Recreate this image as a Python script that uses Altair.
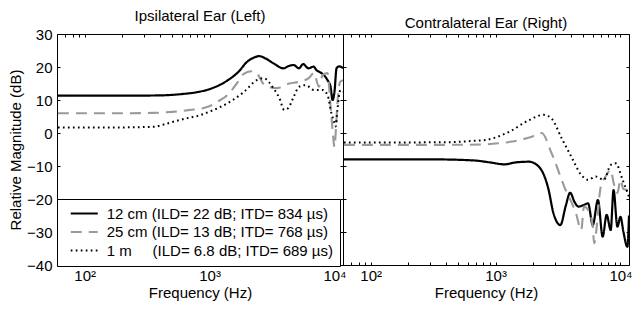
import altair as alt
import pandas as pd

FONT = "Liberation Sans"

# ---------------- data ----------------
series_labels = [
    "12 cm (ILD= 22 dB; ITD= 834 \u00b5s)",
    "25 cm (ILD= 13 dB; ITD= 768 \u00b5s)",
    "1 m\u00a0\u00a0\u00a0\u00a0\u00a0(ILD= 6.8 dB; ITD= 689 \u00b5s)",
]
series_colors = ["#000000", "#9a9a9a", "#000000"]
series_dashes = [[1, 0], [11, 7], [1.7, 3.3]]
series_widths = [2.2, 2.0, 1.7]

panel_titles = ["Ipsilateral Ear (Left)", "Contralateral Ear (Right)"]

# Ipsilateral (left) ear
ipsi_12cm_f = [61, 200, 400, 600, 800, 1000, 1400, 1700, 2000, 2250, 2500, 2800, 3250, 3900, 4300,
               4700, 5200, 5600, 6200, 6800, 7200, 7500, 8200, 8800, 9300, 9650, 10000, 10400, 11000, 11700]
ipsi_12cm_db = [11.3, 11.3, 11.4, 11.8, 12.4, 13.3, 16.0, 18.5, 21.6, 22.8, 23.3, 22.6, 21.1, 19.6, 20.3,
                20.6, 19.6, 20.9, 19.6, 20.1, 19.0, 18.6, 17.6, 16.0, 14.0, 10.0, 12.5, 19.7, 20.2, 19.6]

ipsi_25cm_f = [61, 200, 350, 500, 700, 900, 1050, 1160, 1390, 1650, 1890, 2180, 2400, 2760, 3430, 4350,
               5200, 6250, 6850, 7500, 8050, 8800, 9300, 9650, 10000, 10300, 10600, 11100, 11700]
ipsi_25cm_db = [6.0, 6.0, 6.1, 6.4, 7.0, 7.6, 8.5, 9.5, 11.5, 15.0, 18.0, 18.7, 18.0, 14.5, 13.6, 15.0,
                15.5, 16.7, 18.2, 14.0, 17.6, 18.2, 8.0, 1.0, -4.2, 2.0, 10.0, 15.5, 16.0]

ipsi_1m_f = [61, 200, 360, 450, 570, 700, 805, 1000, 1390, 1890, 2380, 2700, 3250, 3620, 3960, 4270,
             4670, 5200, 5900, 6850, 8050, 8800, 9450, 10000, 10200, 10550, 11150, 11700]
ipsi_1m_db = [1.7, 1.7, 1.9, 2.8, 3.9, 4.7, 5.2, 6.5, 9.0, 12.5, 16.0, 16.6, 13.5, 10.6, 7.0, 7.6,
              10.6, 14.0, 14.5, 13.0, 13.0, 11.5, 6.0, 3.0, 2.0, 7.0, 13.0, 12.5]

# Contralateral (right) ear
contra_12cm_f = [61, 320, 660, 900, 1180, 1450, 1850, 2220, 2660, 2900, 3300, 3650, 3950, 4300, 4600,
                 5100, 5500, 6000, 6600, 7200, 7750, 8350, 8800, 9450, 10000, 10550, 11350, 11700]
contra_12cm_db = [-8.0, -8.0, -8.3, -8.9, -9.5, -8.9, -8.7, -10.2, -17.3, -24.2, -27.9, -22.0, -18.1, -21.0,
                  -22.3, -21.8, -21.3, -27.9, -20.3, -31.4, -24.8, -29.4, -17.3, -28.4, -25.4, -29.9, -34.5, -25.0]

contra_25cm_f = [61, 300, 790, 1000, 1360, 1950, 2340, 2800, 3550, 4400, 4850, 5100, 5600, 6000, 6150,
                 6950, 7600, 8350, 8800, 9450, 10000, 10550, 11700]
contra_25cm_db = [-3.6, -3.6, -3.5, -3.2, -2.6, -1.1, 0.0, -6.0, -16.3, -24.3, -29.4, -22.3, -23.8, -28.4,
                  -33.4, -16.3, -13.2, -11.2, -15.0, -18.2, -14.2, -17.0, -17.3]

contra_1m_f = [61, 400, 660, 834, 1290, 1850, 2430, 2800, 3380, 4040, 4850, 5500, 6350, 7350, 8350,
               9150, 10400, 11700]
contra_1m_db = [-2.9, -2.8, -2.4, -2.1, 0.4, 3.9, 5.5, 4.4, -1.6, -7.2, -12.7, -14.2, -13.2, -14.2, -9.7,
                -9.2, -14.2, -19.3]

x_ticks = [70, 80, 90, 100, 200, 300, 400, 500, 600, 700, 800, 900, 1000,
           2000, 3000, 4000, 5000, 6000, 7000, 8000, 9000, 10000]
y_ticks = [-40, -30, -20, -10, 0, 10, 20, 30]
x_domain = [60, 11700]
y_domain = [-40, 30]

rows = []


def add(panel, label, freqs, dbs):
    for f, v in zip(freqs, dbs):
        rows.append({"panel": panel, "series": label, "freq": f, "db": v})


add(panel_titles[0], series_labels[0], ipsi_12cm_f, ipsi_12cm_db)
add(panel_titles[0], series_labels[1], ipsi_25cm_f, ipsi_25cm_db)
add(panel_titles[0], series_labels[2], ipsi_1m_f, ipsi_1m_db)
add(panel_titles[1], series_labels[0], contra_12cm_f, contra_12cm_db)
add(panel_titles[1], series_labels[1], contra_25cm_f, contra_25cm_db)
add(panel_titles[1], series_labels[2], contra_1m_f, contra_1m_db)
df = pd.DataFrame(rows)

label_expr = ("datum.value == 100 ? '10\u00b2' : datum.value == 1000 ? '10\u00b3' : "
              "datum.value == 10000 ? '10\u2074' : ''")

PANEL_W = 286
PANEL_H = 231


def panel(title, first):
    d = df[df["panel"] == title]
    xs = alt.Scale(type="log", domain=x_domain, nice=False, zero=False)
    ys = alt.Scale(domain=y_domain, nice=False, zero=False)

    if first:
        leg = alt.Legend(
            orient="none", legendX=0, legendY=165, title=None,
            labelFont=FONT, labelFontSize=15, labelColor="black", labelLimit=500,
            symbolType="M-3.6,0H3.6", symbolSize=56.25,
            symbolOffset=12.75, labelOffset=15,
            padding=7, rowPadding=2.5,
            fillColor="white", strokeColor="black", cornerRadius=0,
        )
    else:
        leg = None

    x_bottom = alt.Axis(
        orient="bottom", values=x_ticks, labelExpr=label_expr, offset=-3, tickSize=3,
        domain=False, grid=False, labelPadding=3, labelOverlap=False, labelFlush=False,
        title="Frequency (Hz)", titlePadding=2,
    )
    x_top = alt.Axis(orient="top", values=x_ticks, offset=-3, tickSize=3, labels=False,
                     domain=False, grid=False, title=None, minExtent=0)
    if first:
        y_left = alt.Axis(orient="left", values=y_ticks, offset=-3, tickSize=3, domain=False,
                          grid=False, labelPadding=5, title="Relative Magnitude (dB)",
                          titlePadding=3)
    else:
        y_left = alt.Axis(orient="left", values=y_ticks, offset=-3, tickSize=3, domain=False,
                          grid=False, labels=False, title=None, minExtent=0)
    y_right = alt.Axis(orient="right", values=y_ticks, offset=-3, tickSize=3, domain=False,
                       grid=False, labels=False, title=None, minExtent=0)

    base = alt.Chart(d)
    lines = base.mark_line(interpolate="monotone", strokeCap="butt", strokeJoin="round").encode(
        x=alt.X("freq:Q", scale=xs, axis=x_bottom),
        y=alt.Y("db:Q", scale=ys, axis=y_left),
        color=alt.Color("series:N", scale=alt.Scale(domain=series_labels, range=series_colors),
                        legend=leg),
        strokeDash=alt.StrokeDash("series:N",
                                  scale=alt.Scale(domain=series_labels, range=series_dashes),
                                  legend=leg),
        strokeWidth=alt.StrokeWidth("series:N",
                                    scale=alt.Scale(domain=series_labels, range=series_widths),
                                    legend=leg),
    )
    ghost = base.mark_line(opacity=0).encode(
        x=alt.X("freq:Q", scale=xs, axis=x_top),
        y=alt.Y("db:Q", scale=ys, axis=y_right),
        detail="series:N",
    )
    return alt.layer(lines, ghost).resolve_scale(
        x="independent", y="independent"
    ).resolve_axis(x="independent", y="independent").properties(
        width=PANEL_W, height=PANEL_H,
        title=alt.Title(title, fontSize=15, fontWeight="normal", font=FONT, color="black",
                        offset=3, anchor="middle"),
    )


chart = alt.hconcat(
    panel(panel_titles[0], True), panel(panel_titles[1], False), spacing=0, bounds="flush"
).resolve_scale(
    color="independent", strokeDash="independent", strokeWidth="independent"
).resolve_legend(
    color="independent", strokeDash="independent", strokeWidth="independent"
).properties(
    padding={"left": 0, "top": 0, "right": 0, "bottom": 0},
).configure(
    font=FONT,
).configure_view(
    stroke="black", strokeWidth=1,
).configure_axis(
    labelFont=FONT, labelFontSize=15, labelColor="black",
    titleFont=FONT, titleFontSize=15, titleFontWeight="normal", titleColor="black",
    tickColor="black", tickWidth=1,
)

chart.save("out.html", embed_options={"renderer": "svg", "actions": False})
